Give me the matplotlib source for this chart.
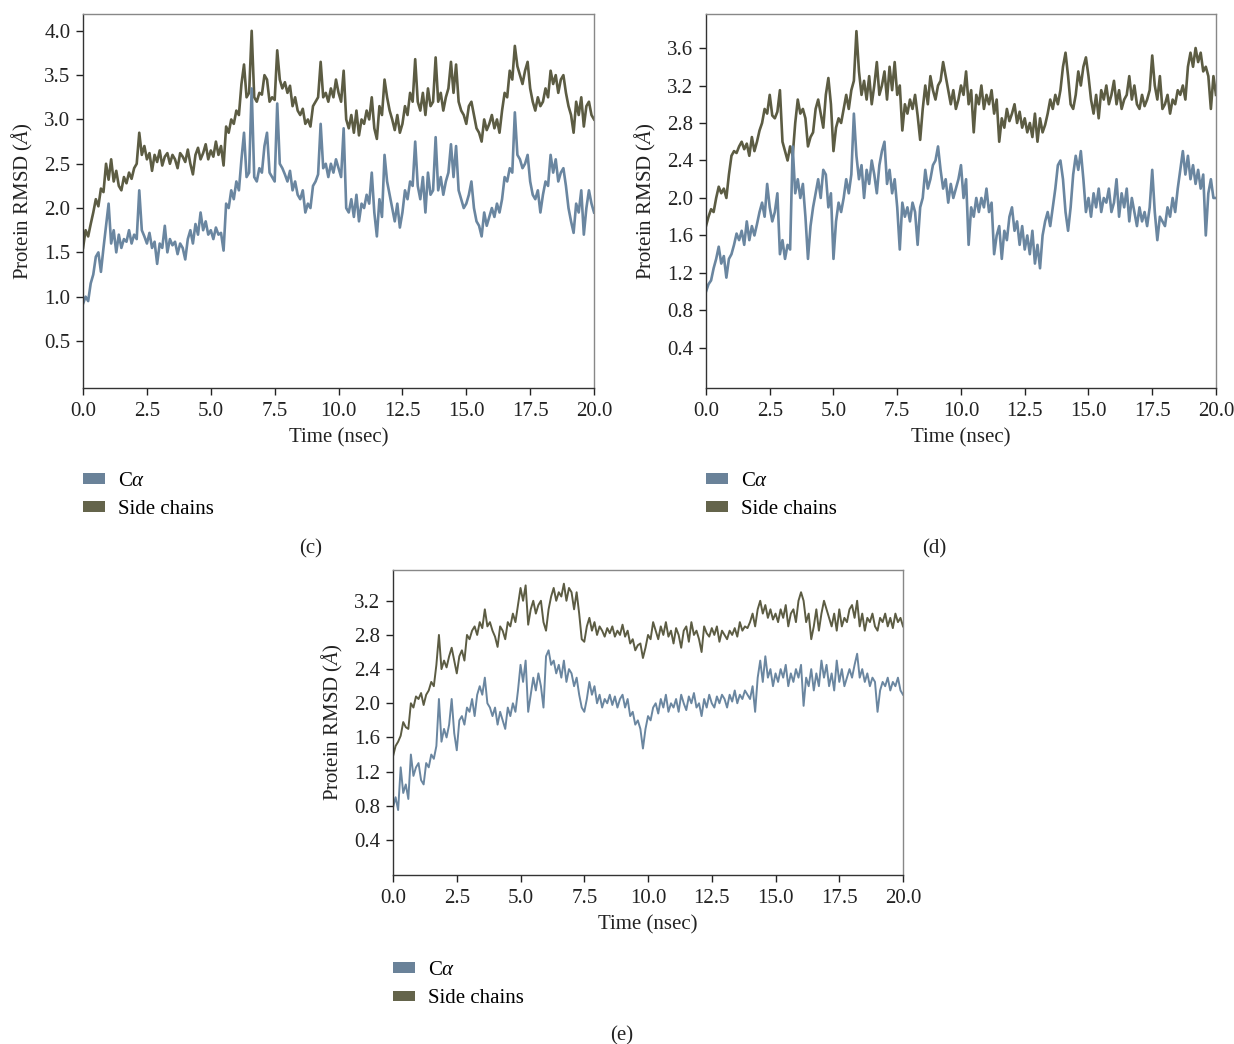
import numpy as np
import matplotlib
matplotlib.use("Agg")
import matplotlib.pyplot as plt
from matplotlib.patches import Patch

plt.rcParams['font.family'] = ['Liberation Serif', 'DejaVu Serif']
plt.rcParams['mathtext.fontset'] = 'custom'
plt.rcParams['mathtext.rm'] = 'Liberation Serif'
plt.rcParams['mathtext.it'] = 'Liberation Serif:italic'

# time axis, 0.1 ns steps
time_ns = np.arange(0, 201) / 10.0

# panel (c)
c_side = [
    1.55, 1.75, 1.68, 1.82, 1.95, 2.1, 2.02, 2.22, 2.18, 2.5,
    2.32, 2.55, 2.3, 2.42, 2.25, 2.2, 2.35, 2.28, 2.4, 2.33,
    2.45, 2.5, 2.85, 2.6, 2.7, 2.55, 2.62, 2.42, 2.6, 2.52,
    2.65, 2.48, 2.58, 2.62, 2.5, 2.6, 2.55, 2.45, 2.62, 2.58,
    2.52, 2.66, 2.5, 2.38, 2.6, 2.68, 2.55, 2.62, 2.72, 2.55,
    2.65, 2.58, 2.75, 2.6, 2.7, 2.48, 2.92, 2.85, 3.0, 2.95,
    3.1, 3.05, 3.4, 3.62, 3.25, 3.3, 4.0, 3.25, 3.2, 3.3,
    3.28, 3.5, 3.45, 3.2, 3.25, 3.22, 3.78, 3.45, 3.35, 3.42,
    3.3, 3.38, 3.15, 3.25, 3.1, 3.05, 3.12, 2.95, 3.0, 2.92,
    3.15, 3.2, 3.25, 3.65, 3.25, 3.3, 3.2, 3.35, 3.25, 3.45,
    3.3, 3.2, 3.55, 3.0, 2.9, 3.05, 2.85, 3.1, 2.82, 3.0,
    2.95, 3.1, 3.0, 3.25, 2.9, 2.78, 3.15, 3.05, 3.45, 3.25,
    3.1, 3.0, 2.88, 3.05, 2.85, 2.95, 3.15, 3.05, 3.3, 3.2,
    3.68, 3.2, 3.1, 3.3, 3.05, 3.35, 3.15, 3.2, 3.7, 3.2,
    3.3, 3.1, 3.25, 3.35, 3.65, 3.3, 3.62, 3.2, 3.1, 3.05,
    2.95, 3.15, 3.2, 3.05, 2.9, 2.85, 2.75, 3.0, 2.88, 2.95,
    3.05, 2.9, 3.0, 2.85, 3.1, 3.3, 3.25, 3.55, 3.45, 3.83,
    3.6, 3.5, 3.4, 3.55, 3.65, 3.35, 3.2, 3.1, 3.25, 3.15,
    3.2, 3.35, 3.25, 3.55, 3.4, 3.5, 3.3, 3.45, 3.5, 3.3,
    3.15, 3.05, 2.85, 3.2, 3.05, 3.25, 2.92, 3.15, 3.2, 3.05,
    3.0,
]
c_ca = [
    0.92, 1.0, 0.95, 1.15, 1.25, 1.45, 1.5, 1.28, 1.55, 1.8,
    2.05, 1.6, 1.75, 1.5, 1.7, 1.55, 1.65, 1.62, 1.75, 1.6,
    1.7, 1.65, 2.2, 1.75, 1.68, 1.6, 1.72, 1.55, 1.62, 1.37,
    1.6, 1.55, 1.8, 1.5, 1.65, 1.58, 1.62, 1.48, 1.6, 1.55,
    1.42, 1.65, 1.75, 1.6, 1.82, 1.7, 1.95, 1.75, 1.85, 1.7,
    1.75, 1.65, 1.78, 1.7, 1.72, 1.52, 2.05, 2.0, 2.2, 2.1,
    2.3, 2.2, 2.55, 2.85, 2.35, 2.4, 3.35, 2.35, 2.3, 2.45,
    2.4, 2.7, 2.85, 2.4, 2.35, 2.3, 3.18, 2.5, 2.45, 2.38,
    2.3, 2.42, 2.2, 2.3, 2.15, 2.1, 2.2, 1.95, 2.05, 2.0,
    2.25, 2.3, 2.38, 2.95, 2.45, 2.5, 2.35, 2.5, 2.4, 2.55,
    2.45, 2.35, 2.9, 2.0, 1.95, 2.1, 1.9, 2.15, 1.85, 2.05,
    2.0, 2.15, 2.05, 2.4, 1.95, 1.68, 2.1, 1.9, 2.6, 2.3,
    2.15, 2.0, 1.85, 2.05, 1.78, 1.95, 2.2, 2.1, 2.3, 2.25,
    2.75, 2.25, 2.1, 2.35, 1.95, 2.4, 2.15, 2.2, 2.8, 2.2,
    2.35, 2.15, 2.3, 2.4, 2.72, 2.35, 2.7, 2.2, 2.1, 2.0,
    2.05, 2.15, 2.3, 2.0, 1.85, 1.8, 1.68, 1.95, 1.8, 1.9,
    2.0, 1.9, 2.05, 1.95, 2.1, 2.35, 2.3, 2.45, 2.4, 3.08,
    2.6, 2.55, 2.45, 2.5, 2.6, 2.3, 2.15, 2.1, 2.2, 1.95,
    2.15, 2.3, 2.25, 2.6, 2.4, 2.55, 2.3, 2.4, 2.45, 2.25,
    2.0, 1.85, 1.72, 2.05, 1.95, 2.2, 1.7, 2.0, 2.2, 2.05,
    1.95,
]

# panel (d)
d_side = [
    1.7, 1.8, 1.88, 1.85, 2.0, 2.12, 2.05, 2.1, 2.0, 2.25,
    2.45, 2.5, 2.48, 2.55, 2.6, 2.52, 2.58, 2.45, 2.65, 2.5,
    2.6, 2.72, 2.8, 2.95, 2.9, 3.1, 2.88, 2.85, 2.92, 3.15,
    2.6, 2.5, 2.4, 2.55, 2.45, 2.8, 3.05, 2.9, 2.95, 2.85,
    2.55, 2.65, 2.7, 2.95, 3.05, 2.9, 2.75, 3.1, 3.28, 3.0,
    2.5, 2.75, 2.85, 2.8, 2.95, 3.1, 2.95, 3.15, 3.25, 3.78,
    3.35, 3.1, 3.25, 3.05, 3.3, 3.0, 3.2, 3.45, 3.1, 3.2,
    3.35, 3.05, 3.4, 3.15, 3.45, 3.1, 3.2, 2.72, 3.0, 2.9,
    3.05, 2.95, 3.1, 2.88, 2.62, 2.95, 3.2, 3.0, 3.3, 3.15,
    3.05, 3.2, 3.25, 3.45, 3.3, 3.15, 3.0, 3.15, 2.95, 3.05,
    3.2, 3.1, 3.35, 3.0, 3.15, 2.7, 3.1, 3.0, 3.2, 2.95,
    3.1, 3.0, 3.15, 2.9, 3.05, 2.6, 2.85, 2.75, 2.95, 2.82,
    2.9, 3.0, 2.8, 2.92, 2.75, 2.85, 2.7, 2.8, 2.65, 2.9,
    2.6, 2.85, 2.7, 2.78, 2.9, 3.05, 2.95, 3.1, 3.0, 3.15,
    3.4, 3.55, 3.3, 3.0, 2.95, 3.1, 3.35, 3.2, 3.4, 3.5,
    3.3, 3.05, 2.9, 3.1, 2.85, 3.15, 3.05, 3.2, 3.0, 3.1,
    3.25, 3.0, 3.15, 2.95, 3.05, 3.1, 3.3, 3.05, 3.2, 3.0,
    2.95, 3.1, 2.98, 3.05, 3.15, 3.52, 3.2, 3.05, 3.3, 2.95,
    3.0, 3.1, 2.9, 3.05, 3.0, 3.15, 3.1, 3.2, 3.05, 3.4,
    3.55, 3.4, 3.6, 3.45, 3.55, 3.35, 3.4, 3.3, 2.95, 3.3,
    3.1,
]
d_ca = [
    1.0, 1.08, 1.12, 1.25, 1.35, 1.48, 1.3, 1.38, 1.15, 1.35,
    1.4, 1.5, 1.62, 1.55, 1.65, 1.5, 1.75, 1.55, 1.7, 1.6,
    1.72, 1.85, 1.95, 1.8, 2.15, 1.9, 1.75, 1.85, 2.05, 1.4,
    1.55, 1.35, 1.5, 1.45, 2.55, 2.05, 2.2, 2.0, 2.15, 1.8,
    1.35, 1.7, 1.9, 2.05, 2.2, 2.0, 2.3, 2.25, 1.9, 2.05,
    1.35, 1.75, 1.95, 1.85, 2.0, 2.2, 2.05, 2.25, 2.9, 2.45,
    2.2, 2.35, 2.0, 2.3, 2.15, 2.4, 2.25, 2.05, 2.35, 2.5,
    2.6, 2.15, 2.3, 2.05, 2.2, 1.9, 1.45, 1.95, 1.8, 1.9,
    1.75, 1.95, 1.85, 1.5, 1.9, 2.0, 2.3, 2.1, 2.2, 2.35,
    2.4, 2.55, 2.3, 2.1, 2.2, 1.95, 2.15, 2.0, 2.1, 2.2,
    2.35, 2.0, 2.2, 1.5, 1.9, 1.8, 2.0, 1.85, 2.0, 1.9,
    2.1, 1.85, 1.95, 1.4, 1.6, 1.7, 1.35, 1.65, 1.55, 1.8,
    1.9, 1.65, 1.75, 1.5, 1.7, 1.45, 1.6, 1.4, 1.65, 1.3,
    1.5, 1.25, 1.6, 1.75, 1.85, 1.7, 1.9, 2.1, 2.35, 2.4,
    2.2, 1.85, 1.65, 1.9, 2.25, 2.45, 2.3, 2.5, 2.2, 1.85,
    2.0, 1.8, 2.05, 1.9, 2.1, 1.85, 2.0, 1.95, 2.1, 1.85,
    1.95, 2.2, 1.8, 2.05, 1.9, 2.1, 1.75, 2.0, 1.85, 1.7,
    1.9, 1.75, 1.85, 1.7, 1.9, 2.3, 1.85, 1.55, 1.8, 1.75,
    1.7, 1.9, 1.8, 2.0, 1.85, 2.1, 2.3, 2.5, 2.25, 2.45,
    2.2, 2.35, 2.15, 2.3, 2.1, 2.25, 1.6, 2.05, 2.2, 2.0,
    2.0,
]

# panel (e)
e_side = [
    1.38, 1.5, 1.55, 1.62, 1.78, 1.72, 1.7, 2.0, 1.95, 2.08,
    2.05, 2.12, 1.98, 2.1, 2.15, 2.25, 2.2, 2.45, 2.8, 2.4,
    2.5, 2.42, 2.55, 2.65, 2.5, 2.35, 2.55, 2.62, 2.5, 2.8,
    2.75, 2.85, 2.9, 2.8, 2.95, 2.88, 3.1, 2.9, 2.95, 2.85,
    2.78, 2.66, 2.9, 2.85, 2.75, 2.95, 2.9, 3.05, 2.95, 3.15,
    3.35, 3.2, 3.38, 2.92, 3.1, 3.2, 3.05, 3.15, 3.2, 2.95,
    2.85, 3.1, 3.25, 3.35, 3.2, 3.3, 3.25, 3.4, 3.2, 3.35,
    3.3, 3.1, 3.3, 3.05, 2.75, 2.72, 2.9, 3.0, 2.85, 2.95,
    2.8, 2.9, 2.85, 2.78, 2.88, 2.82, 2.9, 2.78, 2.85, 2.8,
    2.92, 2.78, 2.85, 2.7, 2.75, 2.62, 2.68, 2.7, 2.53, 2.65,
    2.8, 2.75, 2.95, 2.85, 2.75, 2.9, 2.8, 2.95, 2.78, 2.85,
    2.7, 2.88, 2.8, 2.65, 2.85, 2.9, 2.72, 2.95, 2.8, 2.85,
    2.75, 2.6, 2.9, 2.82, 2.78, 2.88, 2.8, 2.9, 2.72, 2.85,
    2.8, 2.75, 2.85, 2.8, 2.88, 2.78, 2.95, 2.85, 2.9, 2.88,
    2.95, 3.05, 2.9, 3.1, 3.2, 3.05, 3.15, 3.0, 3.1, 2.98,
    3.05, 2.95, 3.1, 3.0, 3.15, 2.9, 3.05, 3.1, 2.95, 3.2,
    3.3, 3.2, 2.95, 3.05, 2.75, 2.9, 3.1, 2.85, 3.05, 3.2,
    3.1, 3.0, 2.9, 3.05, 2.85, 3.1, 2.9, 3.0, 2.95, 3.1,
    3.15, 3.0, 3.2, 2.9, 3.05, 2.85, 3.0, 2.95, 3.05, 2.9,
    2.85, 3.0, 2.95, 3.05, 2.9, 3.0, 2.88, 3.05, 2.95, 3.0,
    2.9,
]
e_ca = [
    0.78, 0.9, 0.75, 1.25, 0.95, 1.05, 0.88, 1.4, 1.15, 1.25,
    1.3, 1.1, 1.05, 1.3, 1.25, 1.4, 1.35, 1.5, 2.05, 1.55,
    1.7, 1.6, 1.75, 2.05, 1.65, 1.45, 1.8, 1.85, 1.75, 1.95,
    1.9, 2.05, 1.85, 2.1, 2.2, 2.1, 2.3, 2.0, 1.95, 1.85,
    1.95, 1.75, 1.9, 1.8, 1.7, 1.95, 1.85, 2.0, 1.9, 2.15,
    2.45, 2.25, 2.5, 1.9, 2.1, 2.3, 2.15, 2.35, 2.2, 1.95,
    2.55, 2.62, 2.45, 2.5, 2.35, 2.45, 2.3, 2.5, 2.25, 2.4,
    2.35, 2.2, 2.3, 2.1, 1.95, 1.9, 2.05, 2.25, 2.1, 2.2,
    2.0, 2.1, 1.95, 2.05, 2.0, 2.1, 1.98, 2.08, 1.95, 2.05,
    2.1, 1.95, 2.05, 1.85, 1.9, 1.75, 1.8, 1.7, 1.47, 1.7,
    1.85, 1.8, 1.95, 2.0, 1.88, 2.05, 1.95, 2.1, 1.9, 2.0,
    1.95, 2.05, 1.9, 2.1, 2.0, 1.92, 2.08, 2.0, 2.12, 1.95,
    2.0, 1.85, 2.05, 1.95, 2.1, 2.0, 1.95, 2.08, 2.0, 2.1,
    2.05, 1.95, 2.1, 2.02, 2.15, 2.0, 2.1, 2.05, 2.15, 2.1,
    2.05, 2.2, 1.9, 2.3, 2.5, 2.25, 2.55, 2.3, 2.4, 2.2,
    2.35, 2.25, 2.4, 2.3, 2.45, 2.2, 2.35, 2.25, 2.4, 2.3,
    2.45, 1.97, 2.3, 2.2, 2.4, 2.15, 2.35, 2.2, 2.5, 2.3,
    2.45, 2.2, 2.35, 2.15, 2.5, 2.25, 2.4, 2.2, 2.3, 2.4,
    2.3, 2.45, 2.58, 2.3, 2.4, 2.25, 2.35, 2.2, 2.3, 2.25,
    1.9, 2.15, 2.25, 2.2, 2.3, 2.15, 2.25, 2.2, 2.3, 2.15,
    2.1,
]

x_ticks = [0.0, 2.5, 5.0, 7.5, 10.0, 12.5, 15.0, 17.5, 20.0]
c_yticks = [0.5, 1.0, 1.5, 2.0, 2.5, 3.0, 3.5, 4.0]
de_yticks = [0.4, 0.8, 1.2, 1.6, 2.0, 2.4, 2.8, 3.2, 3.6]
e_yticks = [0.4, 0.8, 1.2, 1.6, 2.0, 2.4, 2.8, 3.2]
series_labels = [r'C$\alpha$', 'Side chains']

ca_color = '#6a86a0'
side_color = '#5c5c43'
ca_patch = '#6a8299'
side_patch = '#64644b'

fig = plt.figure(figsize=(12.34, 10.44), dpi=100)

panels = [
    # rect, ca, side, yticks, ylim, lw, caption, caption pos, legend y
    ([0.0673, 0.6284, 0.4141, 0.3582], c_ca, c_side, c_yticks, (-0.03, 4.19), 1.9, '(c)', (311, 549), -0.224),
    ([0.5721, 0.6284, 0.4133, 0.3582], d_ca, d_side, de_yticks, (-0.027, 3.963), 1.9, '(d)', (934, 549), -0.224),
    ([0.3185, 0.1619, 0.4133, 0.2921], e_ca, e_side, e_yticks, (-0.01, 3.56), 1.4, '(e)', (622, 1036), -0.282),
]

for rect, ca, side, yt, yl, lw, cap, cap_xy, leg_y in panels:
    ax = fig.add_axes(rect)
    ax.plot(time_ns, side, color=side_color, lw=lw)
    ax.plot(time_ns, ca, color=ca_color, lw=lw)
    ax.set_xlim(0, 20)
    ax.set_ylim(*yl)
    ax.set_xticks(x_ticks)
    ax.set_xticklabels([f'{v:.1f}' for v in x_ticks])
    ax.set_yticks(yt)
    ax.set_yticklabels([f'{v:.1f}' for v in yt])
    ax.tick_params(direction='out', length=5, width=1, labelsize=15, colors='#222222')
    ax.tick_params(axis='x', pad=5)
    ax.tick_params(axis='y', pad=4)
    for s in ['left', 'bottom']:
        ax.spines[s].set_color('#333333')
        ax.spines[s].set_linewidth(1.0)
    for s in ['top', 'right']:
        ax.spines[s].set_color('#888888')
        ax.spines[s].set_linewidth(1.0)
    ax.set_xlabel('Time (nsec)', fontsize=15, color='#222222', labelpad=5)
    ax.set_ylabel(r'Protein RMSD ($\mathit{Å}$)', fontsize=15, color='#222222', labelpad=7)
    handles = [Patch(facecolor=ca_patch, edgecolor='none', label=series_labels[0]),
               Patch(facecolor=side_patch, edgecolor='none', label=series_labels[1])]
    ax.legend(handles=handles, loc='upper left', bbox_to_anchor=(0.0, leg_y),
              frameon=False, fontsize=15, borderpad=0, borderaxespad=0,
              handlelength=1.05, handleheight=0.42, handletextpad=0.62,
              labelspacing=0.45)
    fig.text(cap_xy[0] / 1234, 1 - cap_xy[1] / 1044, cap, fontsize=15,
             ha='center', va='center', color='#222222')

fig.savefig('out.png', dpi=100)
